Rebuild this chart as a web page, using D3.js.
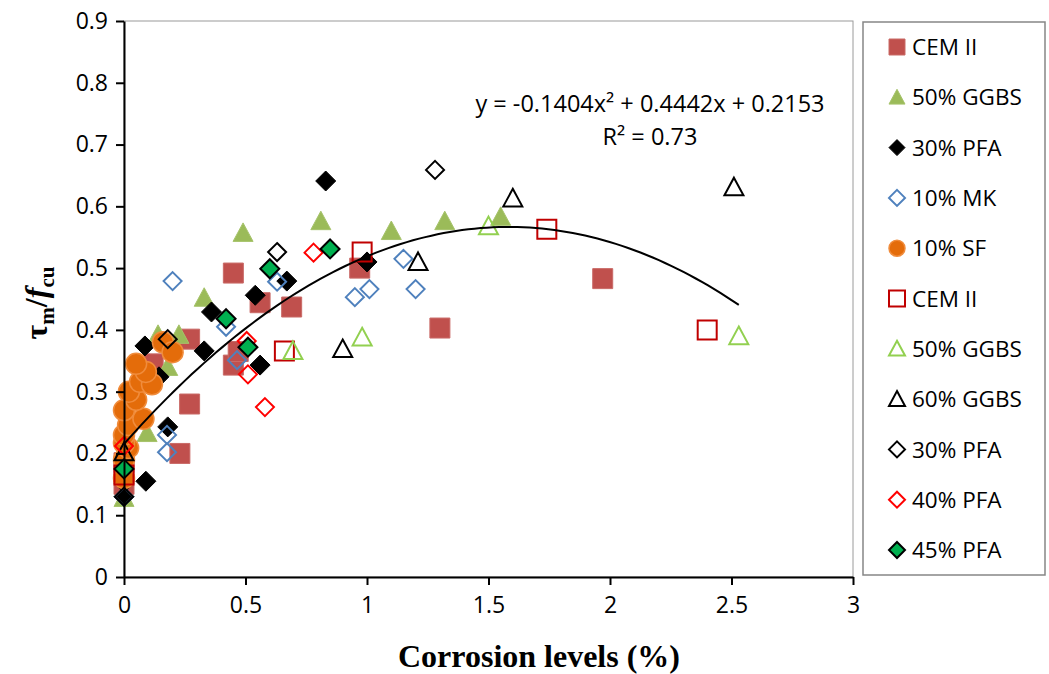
<!DOCTYPE html>
<html>
<head>
<meta charset="utf-8">
<script src="https://cdn.jsdelivr.net/npm/d3@7"></script>
<style>
  body { margin: 0; background: #fff; }
  svg { display: block; }
</style>
</head>
<body>
<svg id="chart" width="1049" height="674"></svg>
<script>
// ---- data: [corrosion level (%), tau_m / f_cu] ----
const xTickValues = [0, 0.5, 1, 1.5, 2, 2.5, 3];
const yTickValues = [0, 0.1, 0.2, 0.3, 0.4, 0.5, 0.6, 0.7, 0.8, 0.9];

const cemIIFilled = [[0,0.15],[0,0.17],[0,0.185],[0.12,0.345],[0.23,0.2],[0.27,0.28],[0.27,0.385],
  [0.45,0.343],[0.47,0.365],[0.45,0.492],[0.56,0.444],[0.69,0.437],[0.97,0.5],[1.3,0.403],[1.97,0.483]];
const ggbs50Filled = [[0,0.128],[0.095,0.233],[0.14,0.392],[0.18,0.34],[0.226,0.392],[0.33,0.452],
  [0.49,0.557],[0.81,0.576],[1.1,0.56],[1.32,0.576],[1.55,0.583]];
const pfa30Filled = [[0,0.13],[0,0.152],[0.09,0.155],[0.086,0.374],[0.144,0.324],[0.18,0.243],[0.33,0.366],
  [0.36,0.429],[0.54,0.456],[0.56,0.343],[0.67,0.479],[0.83,0.641],[1.0,0.51]];
const mk10 = [[0,0.13],[0.177,0.202],[0.177,0.23],[0.2,0.479],[0.42,0.405],[0.465,0.351],[0.63,0.478],
  [0.95,0.453],[1.01,0.466],[1.15,0.515],[1.2,0.466]];
const sf10 = [[0,0.16],[0,0.19],[0.017,0.209],[0,0.217],[0,0.23],[0.017,0.246],[0.08,0.256],[0,0.27],
  [0.05,0.287],[0.02,0.3],[0.066,0.316],[0.115,0.312],[0.09,0.332],[0.05,0.345],[0.16,0.38],[0.2,0.364]];
const cemIIOpen = [[0,0.165],[0.66,0.366],[0.98,0.526],[1.74,0.563],[2.4,0.4]];
const ggbs50Open = [[0.695,0.366],[0.98,0.388],[1.5,0.568],[2.53,0.39]];
const ggbs60Open = [[0,0.202],[0.9,0.369],[1.21,0.51],[1.6,0.613],[2.51,0.631]];
const pfa30Open = [[0,0.13],[0.18,0.385],[0.63,0.526],[1.28,0.659]];
const pfa40Open = [[0,0.212],[0.505,0.382],[0.51,0.328],[0.58,0.275],[0.78,0.525]];
const pfa45 = [[0,0.175],[0.42,0.418],[0.51,0.372],[0.6,0.499],[0.848,0.531]];

const seriesNames = ["CEM II", "50% GGBS", "30% PFA", "10% MK", "10% SF",
  "CEM II", "50% GGBS", "60% GGBS", "30% PFA", "40% PFA", "45% PFA"];

// quadratic trendline y = a x^2 + b x + c
const trendCoef = { a: -0.1404, b: 0.4442, c: 0.2153 };
const trendRange = [0, 2.53];
const trendLabel = "y = -0.1404x² + 0.4442x + 0.2153";
const r2Label = "R² = 0.73";

// ---- marker styles ----
const series = [
  { data: cemIIFilled, shape: "square",   size: 20, fill: "#C0504D", stroke: "#C96A67", sw: 1 },
  { data: ggbs50Filled, shape: "triangle", size: 20, fill: "#9BBB59", stroke: "#A6C36B", sw: 1 },
  { data: pfa30Filled, shape: "diamond",  size: 20, fill: "#000000", stroke: "#000000", sw: 1 },
  { data: mk10,        shape: "diamond",  size: 18, fill: "none",    stroke: "#4F81BD", sw: 2 },
  { data: sf10,        shape: "circle",   size: 21, fill: "#E46C0A", stroke: "#F08C3C", sw: 1.5 },
  { data: cemIIOpen,   shape: "square",   size: 19, fill: "none",    stroke: "#C00000", sw: 2 },
  { data: ggbs50Open,  shape: "triangle", size: 19, fill: "none",    stroke: "#92D050", sw: 2 },
  { data: ggbs60Open,  shape: "triangle", size: 19, fill: "none",    stroke: "#000000", sw: 2 },
  { data: pfa30Open,   shape: "diamond",  size: 18, fill: "none",    stroke: "#000000", sw: 2 },
  { data: pfa40Open,   shape: "diamond",  size: 18, fill: "none",    stroke: "#FF0000", sw: 2 },
  { data: pfa45,       shape: "diamond",  size: 19, fill: "#00B050", stroke: "#000000", sw: 2 }
];

function markerPath(shape, s) {
  const h = s / 2;
  if (shape === "square") return `M${-h},${-h}H${h}V${h}H${-h}Z`;
  if (shape === "triangle") return `M0,${-h}L${h},${h * 0.85}L${-h},${h * 0.85}Z`;
  if (shape === "diamond") return `M0,${-h}L${h},0L0,${h}L${-h},0Z`;
  return `M${h},0A${h},${h} 0 1,1 ${-h},0A${h},${h} 0 1,1 ${h},0Z`;
}

// ---- layout ----
const svg = d3.select("#chart");
const x = d3.scaleLinear().domain([0, 3]).range([124, 853]);
const y = d3.scaleLinear().domain([0, 0.9]).range([577, 21]);
const font = "'Open Sans', 'Noto Sans', sans-serif";

svg.append("rect").attr("width", 1049).attr("height", 674).attr("fill", "#fff");

// plot area frame
svg.append("rect")
  .attr("x", x(0)).attr("y", y(0.9))
  .attr("width", x(3) - x(0)).attr("height", y(0) - y(0.9))
  .attr("fill", "none").attr("stroke", "#9a9a9a").attr("stroke-width", 1);

// markers, drawn series by series
series.forEach(s => {
  svg.append("g").selectAll("path").data(s.data).join("path")
    .attr("transform", d => `translate(${x(d[0])},${y(d[1])})`)
    .attr("d", markerPath(s.shape, s.size))
    .attr("fill", s.fill).attr("stroke", s.stroke)
    .attr("stroke-width", s.sw).attr("stroke-linejoin", "miter");
});

// trendline
const trendPts = d3.range(0, 101).map(i => {
  const xv = trendRange[0] + (trendRange[1] - trendRange[0]) * i / 100;
  return [xv, trendCoef.a * xv * xv + trendCoef.b * xv + trendCoef.c];
});
svg.append("path")
  .attr("d", d3.line().x(d => x(d[0])).y(d => y(d[1]))(trendPts))
  .attr("fill", "none").attr("stroke", "#000").attr("stroke-width", 2);

// axes
const yAxis = svg.append("g").attr("transform", `translate(${x(0)},0)`)
  .call(d3.axisLeft(y).tickValues(yTickValues).tickFormat(d => String(d))
    .tickSize(8).tickSizeOuter(0).tickPadding(8));
const xAxis = svg.append("g").attr("transform", `translate(0,${y(0)})`)
  .call(d3.axisBottom(x).tickValues(xTickValues).tickFormat(d => String(d))
    .tickSize(8).tickSizeOuter(0).tickPadding(12));
[yAxis, xAxis].forEach(g => {
  g.select(".domain").attr("stroke", "#000").attr("stroke-width", 2);
  g.selectAll(".tick line").attr("stroke", "#000").attr("stroke-width", 2);
  g.selectAll(".tick text").attr("fill", "#000")
    .style("font-family", font).style("font-size", "23px");
});

// trendline equation
svg.append("text").attr("x", 650).attr("y", 112).attr("text-anchor", "middle")
  .style("font-family", font).style("font-size", "23.5px").text(trendLabel);
svg.append("text").attr("x", 650).attr("y", 145).attr("text-anchor", "middle")
  .style("font-family", font).style("font-size", "23.5px").text(r2Label);

// axis titles
svg.append("text").attr("x", 539).attr("y", 667).attr("text-anchor", "middle")
  .style("font-family", "'Liberation Serif', 'DejaVu Serif', serif")
  .style("font-weight", "bold").style("font-size", "32px")
  .text("Corrosion levels (%)");

const yTitle = svg.append("text")
  .attr("transform", "translate(47,303) rotate(-90)")
  .attr("text-anchor", "middle")
  .style("font-family", "'Liberation Serif', 'DejaVu Serif', serif")
  .style("font-weight", "bold").style("font-size", "32px");
yTitle.append("tspan").text("τ");
yTitle.append("tspan").attr("dy", 7).style("font-size", "21px").text("m");
yTitle.append("tspan").attr("dy", -7).text("/");
yTitle.append("tspan").style("font-style", "italic").text("f");
yTitle.append("tspan").attr("dy", 7).style("font-size", "21px").text("cu");

// legend
const legend = svg.append("g");
legend.append("rect").attr("x", 863).attr("y", 22).attr("width", 182).attr("height", 553)
  .attr("fill", "#fff").attr("stroke", "#868686").attr("stroke-width", 1.5);
series.forEach((s, i) => {
  const cy = 47 + i * 50.3;
  legend.append("path")
    .attr("transform", `translate(897,${cy})`)
    .attr("d", markerPath(s.shape, 16))
    .attr("fill", s.fill).attr("stroke", s.stroke)
    .attr("stroke-width", s.sw);
  legend.append("text").attr("x", 912).attr("y", cy).attr("dy", "0.36em")
    .style("font-family", font).style("font-size", "22.5px").attr("fill", "#000")
    .text(seriesNames[i]);
});
</script>
</body>
</html>
